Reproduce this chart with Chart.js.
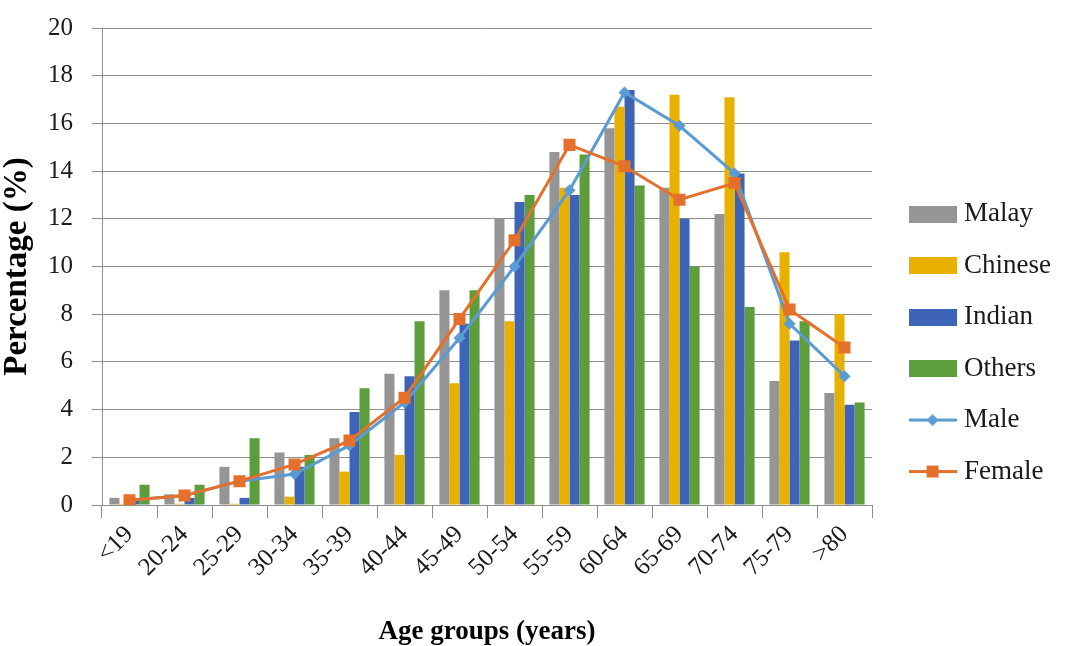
<!DOCTYPE html>
<html>
<head>
<meta charset="utf-8">
<script src="https://cdn.jsdelivr.net/npm/chart.js@4/dist/chart.umd.min.js"></script>
<style>
  html, body { margin: 0; padding: 0; background: #ffffff; }
  #wrap { width: 1066px; height: 646px; }
</style>
</head>
<body>
<div id="wrap"><canvas id="c" width="1066" height="646"></canvas></div>
<script>
const categories = ['<19','20-24','25-29','30-34','35-39','40-44','45-49','50-54','55-59','60-64','65-69','70-74','75-79','>80'];
const malay   = [0.3, 0.45, 1.6, 2.2, 2.8, 5.5, 9.0, 12.0, 14.8, 15.8, 13.3, 12.2, 5.2, 4.7];
const chinese = [0.05, 0.05, 0.05, 0.35, 1.4, 2.1, 5.1, 7.7, 13.3, 16.7, 17.2, 17.1, 10.6, 8.0];
const indian  = [0.2, 0.3, 0.3, 1.6, 3.9, 5.4, 7.6, 12.7, 13.0, 17.4, 12.0, 13.9, 6.9, 4.2];
const others  = [0.85, 0.85, 2.8, 2.1, 4.9, 7.7, 9.0, 13.0, 14.7, 13.4, 10.0, 8.3, 7.7, 4.3];
const male    = [0.2, 0.4, 1.0, 1.3, 2.5, 4.3, 7.0, 10.0, 13.2, 17.3, 15.9, 13.9, 7.6, 5.4];
const female  = [0.2, 0.4, 1.0, 1.7, 2.7, 4.5, 7.8, 11.1, 15.1, 14.2, 12.8, 13.5, 8.2, 6.6];
const yTicks  = [0, 2, 4, 6, 8, 10, 12, 14, 16, 18, 20];

const C = {
  malay: '#959595', chinese: '#E8B100', indian: '#3D64B6', others: '#5E9D3B',
  male: '#5A9BD4', female: '#E5702C', grid: '#8E8E8E', text: '#1a1a1a'
};
const SERIF = '"Liberation Serif", "Times New Roman", serif';

function swatchBox(color) {
  const cv = document.createElement('canvas');
  cv.width = 48; cv.height = 17;
  const g = cv.getContext('2d');
  g.fillStyle = color; g.fillRect(0, 0, 48, 17);
  return cv;
}
function swatchLine(color, marker) {
  const cv = document.createElement('canvas');
  cv.width = 48; cv.height = 17;
  const g = cv.getContext('2d');
  g.strokeStyle = color; g.lineWidth = 3;
  g.beginPath(); g.moveTo(0, 8.5); g.lineTo(48, 8.5); g.stroke();
  g.fillStyle = color;
  if (marker === 'rect') { g.fillRect(18, 2.5, 12, 12); }
  else { g.beginPath(); g.moveTo(24, 2.5); g.lineTo(30, 8.5); g.lineTo(24, 14.5); g.lineTo(18, 8.5); g.closePath(); g.fill(); }
  return cv;
}

const legendImgs = [swatchBox(C.malay), swatchBox(C.chinese), swatchBox(C.indian), swatchBox(C.others),
                    swatchLine(C.male, 'rectRot'), swatchLine(C.female, 'rect')];

const chart = new Chart(document.getElementById('c'), {
  data: {
    labels: categories,
    datasets: [
      { type: 'bar', label: 'Malay',   data: malay,   backgroundColor: C.malay,   order: 2 },
      { type: 'bar', label: 'Chinese', data: chinese, backgroundColor: C.chinese, order: 2 },
      { type: 'bar', label: 'Indian',  data: indian,  backgroundColor: C.indian,  order: 2 },
      { type: 'bar', label: 'Others',  data: others,  backgroundColor: C.others,  order: 2 },
      { type: 'line', label: 'Male', data: male, borderColor: C.male, backgroundColor: C.male,
        borderWidth: 3, pointStyle: 'rectRot', pointRadius: 6, pointBorderWidth: 0, tension: 0, order: 1 },
      { type: 'line', label: 'Female', data: female, borderColor: C.female, backgroundColor: C.female,
        borderWidth: 3, pointStyle: 'rect', pointRadius: 8.5, pointBorderWidth: 0, tension: 0, order: 0 }
    ]
  },
  options: {
    responsive: false,
    animation: false,
    devicePixelRatio: 1,
    layout: { padding: { top: 28, bottom: 0, left: 0, right: 5 } },
    datasets: { bar: { categoryPercentage: 0.73, barPercentage: 1.0 } },
    plugins: {
      tooltip: { enabled: false },
      legend: {
        position: 'right',
        align: 'center',
        title: { display: true, text: ' ', font: { size: 11, lineHeight: 1.05 }, padding: 0 },
        labels: {
          usePointStyle: true,
          pointStyleWidth: 36,
          padding: 24.5,
          color: C.text,
          font: { family: SERIF, size: 27 },
          generateLabels(chart) {
            return chart.data.datasets.map((ds, i) => ({
              text: ds.label,
              pointStyle: legendImgs[i],
              fillStyle: 'rgba(0,0,0,0)',
              strokeStyle: 'rgba(0,0,0,0)',
              lineWidth: 0,
              fontColor: C.text,
              datasetIndex: i,
              hidden: false
            }));
          }
        }
      }
    },
    scales: {
      x: {
        offset: true,
        grid: { display: true, drawOnChartArea: false, drawTicks: true, tickLength: 13, offset: true, color: C.grid },
        border: { display: true, color: C.grid, width: 1 },
        ticks: { autoSkip: false, minRotation: 45, maxRotation: 45, padding: 2, color: C.text,
                 font: { family: SERIF, size: 25 } },
        title: { display: true, text: 'Age groups (years)', color: '#000',
                 font: { family: SERIF, size: 27, weight: 'bold', lineHeight: 1 }, padding: { top: 0, bottom: 0 } },
        afterFit(s) { s.height = 141; }
      },
      y: {
        position: 'left',
        min: 0, max: 20,
        afterBuildTicks(s) { s.ticks = yTicks.map(v => ({ value: v })); },
        grid: { color: C.grid, lineWidth: 1, drawTicks: true, tickLength: 10 },
        border: { display: true, color: C.grid, width: 1 },
        ticks: { padding: 19, color: C.text, font: { family: SERIF, size: 25 } },
        title: { display: true, text: 'Percentage (%)', color: '#000',
                 font: { family: SERIF, size: 33, weight: 'bold', lineHeight: 1.05 }, padding: { top: 0, bottom: 4 } },
        afterFit(s) { s.width = 102; s.paddingTop = 6; s.paddingBottom = 6; }
      },
      yR: {
        position: 'right',
        display: true,
        grid: { display: false, drawTicks: false },
        border: { display: false },
        ticks: { display: false },
        afterFit(s) { s.width = 18; }
      }
    }
  }
});
</script>
</body>
</html>
